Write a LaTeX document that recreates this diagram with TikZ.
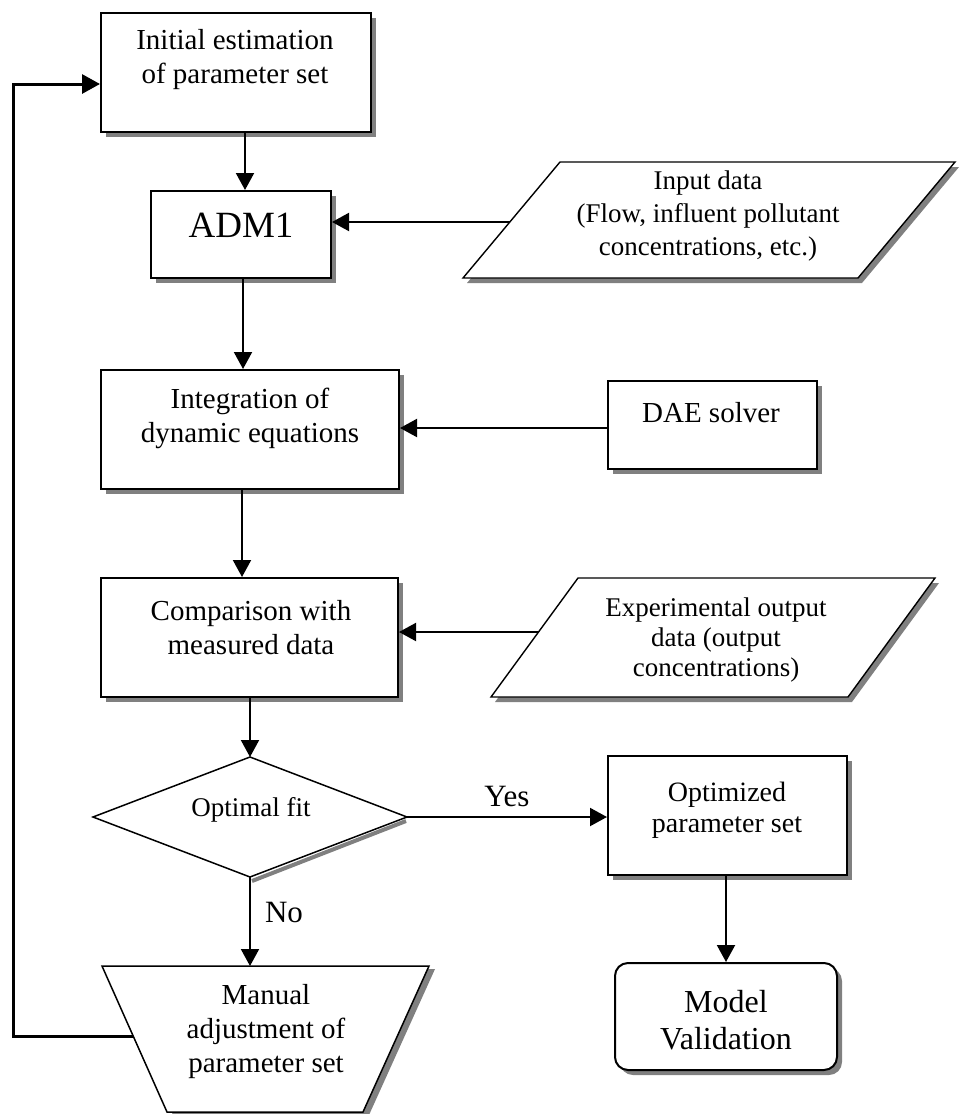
\documentclass[tikz,border=0pt]{standalone}
\usepackage{fontspec}
\setmainfont{Liberation Serif}
\usetikzlibrary{arrows.meta,shadows}
\tikzset{
  boxsh/.style={drop shadow={shadow xshift=5pt,shadow yshift=-5pt,fill=black!50,opacity=1}},
  stepbox/.style={draw, line width=2pt, fill=white, rectangle, inner sep=0pt, boxsh},
  pgram/.style={draw, line width=1.4pt, fill=white, drop shadow={shadow xshift=4pt,shadow yshift=-5pt,fill=black!50,opacity=1}},
  thinshape/.style={draw, line width=1.5pt, fill=white},
  txt/.style={align=center, font=\fontsize{29}{34}\selectfont, inner sep=0pt},
  arr/.style={line width=2pt, -{Triangle[width=18pt,length=17pt]}},
  looparr/.style={line width=3pt, -{Triangle[width=19pt,length=18pt]}},
}
\begin{document}
\begin{tikzpicture}[x=1pt,y=-1pt]
\fill[white] (0,0) rectangle (960,1114);
\useasboundingbox (0,0) rectangle (960,1114);

% main column boxes
\node[stepbox, minimum width=270pt, minimum height=119pt] (b1) at (236,72.5) {};
\node[txt] (b1t) at (235,60) {Initial estimation\\of parameter set};

\node[stepbox, minimum width=180pt, minimum height=87pt] (adm) at (241,234.5) {};
\node[txt, font=\fontsize{37}{40}\selectfont] (admt) at (241,225) {ADM1};

\node[stepbox, minimum width=298pt, minimum height=119pt] (integ) at (250,429.5) {};
\node[txt] (integt) at (250,418.5) {Integration of\\dynamic equations};

\node[stepbox, minimum width=209pt, minimum height=88pt] (dae) at (712.5,425) {};
\node[txt] (daet) at (711,413) {DAE solver};

\node[stepbox, minimum width=297pt, minimum height=119pt] (cmp) at (249.5,637.5) {};
\node[txt] (cmpt) at (251,628) {Comparison with\\measured data};

\node[stepbox, minimum width=239pt, minimum height=119pt] (opt) at (727.5,815.5) {};
\node[txt, font=\fontsize{28}{31}\selectfont] (optt) at (727,810) {Optimized\\parameter set};

\node[stepbox, rounded corners=13pt, minimum width=222pt, minimum height=107pt] (mv) at (726,1016.5) {};
\node[txt, font=\fontsize{32}{37}\selectfont] (mvt) at (726,1020) {Model\\Validation};

% input data parallelogram
\draw[pgram] (560,162) -- (955,162) -- (858,278) -- (463,278) -- cycle;
\node[txt, font=\fontsize{27}{33}\selectfont] (inp) at (708,216) {Input data\\(Flow, influent pollutant\\concentrations, etc.)};
\coordinate (inL) at (510,222);

% experimental data parallelogram
\draw[pgram] (578,578) -- (935,578) -- (848,697) -- (491,697) -- cycle;
\node[txt, font=\fontsize{27}{30}\selectfont] (exp) at (716,640) {Experimental output\\data (output\\concentrations)};
\coordinate (exL) at (538,632);

% decision diamond
\draw[black!50, line width=4pt] (252,881) -- (406,821);
\draw[thinshape] (250,757) coordinate (dT) -- (407,817) coordinate (dR) -- (250,877) coordinate (dB) -- (93,817) coordinate (dL) -- cycle;
\node[txt, font=\fontsize{27}{30}\selectfont] (dect) at (251,810) {Optimal fit};

% manual adjustment trapezoid
\draw[thinshape, drop shadow={shadow xshift=6pt,shadow yshift=-3pt,fill=black!50,opacity=1}] (102,966) coordinate (mTL) -- (429,966) -- (363,1112) -- (167,1112) -- cycle;
\node[txt] (mant) at (266,1032) {Manual\\adjustment of\\parameter set};
\coordinate (mL) at (133,1036);
\coordinate (mTop) at (250,966);
\coordinate (lp) at (13,84);

% column x positions
\coordinate (c1) at (245,0);
\coordinate (c2) at (243,0);
\coordinate (c3) at (242,0);

% connectors
\draw[arr] (b1.south -| c1) -- (adm.north -| c1);
\draw[arr] (adm.south -| c2) -- (integ.north -| c2);
\draw[arr] (integ.south -| c3) -- (cmp.north -| c3);
\draw[arr] (cmp.south -| dT) -- (dT);
\draw[arr] (inL) -- (inL -| adm.east);
\draw[arr] (dae.west |- 0,428) -- (integ.east |- 0,428);
\draw[arr] (exL) -- (exL -| cmp.east);
\draw[arr] (dR) -- node[above=9pt, font=\fontsize{31}{34}\selectfont, inner sep=0pt] (yes) {Yes} (dR -| opt.west);
\draw[arr] (dB) -- node[right=14pt, font=\fontsize{31}{34}\selectfont, inner sep=0pt, pos=0.4] (no) {No} (mTop);
\draw[arr] (opt.south -| mv.north) -- (mv.north);
\draw[looparr] (mL) -| (lp) -- (lp -| b1.west);
\end{tikzpicture}
\end{document}
